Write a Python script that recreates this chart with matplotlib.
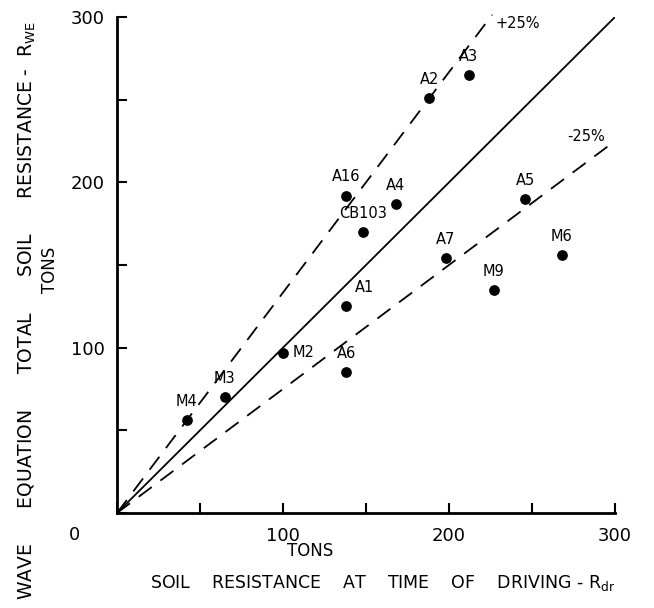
import numpy as np
import matplotlib
matplotlib.use("Agg")
import matplotlib.pyplot as plt

# Piles: driving resistance (x) vs wave equation resistance (y), tons
piles = ["M4", "M3", "M2", "A16", "A4", "CB103", "A1", "A6",
         "A7", "A2", "A3", "A5", "M6", "M9"]
r_dr = [42, 65, 100, 138, 168, 148, 138, 138, 198, 188, 212, 246, 268, 227]
r_we = [56, 70, 97, 192, 187, 170, 125, 85, 154, 251, 265, 190, 156, 135]

# label offsets (points) relative to each dot
offsets = {"M2": (7, 0), "A1": (6, 8)}

fig = plt.figure(figsize=(6.54, 6.08), dpi=100)
ax = fig.add_axes([117/654, 1-513/608, (615-117)/654, (513-17)/608])

# reference lines: 1:1 and +/-25 %
line_x = np.array([0, 300])
ax.plot(line_x, line_x, color="black", lw=1.3)
ax.plot([0, 226], [0, 226/0.75], color="black", lw=1.3, dashes=(9, 6), clip_on=False)
ax.plot([0, 300], [0, 300*0.75], color="black", lw=1.3, dashes=(9, 6), clip_on=False)

ax.scatter(r_dr, r_we, s=45, color="black", zorder=3, clip_on=False)
for name, x, y in zip(piles, r_dr, r_we):
    dx, dy = offsets.get(name, (0, 8))
    ha = "left" if name in offsets else "center"
    va = "center" if name == "M2" else "bottom"
    ax.annotate(name, (x, y), xytext=(dx, dy), textcoords="offset points",
                ha=ha, va=va, fontsize=10.5)

ax.text(228, 296, "+25%", fontsize=10.5, ha="left", va="center")
ax.text(271, 228, "-25%", fontsize=10.5, ha="left", va="center")

ax.set_xlim(0, 300)
ax.set_ylim(0, 300)
ticks = [0, 50, 100, 150, 200, 250, 300]
ax.set_xticks(ticks)
ax.set_yticks(ticks)
ax.set_xticklabels(["", "", "100", "", "200", "", "300"])
ax.set_yticklabels(["", "", "100", "", "200", "", "300"])
ax.tick_params(direction="in", length=7, width=1.5, labelsize=13, pad=10)
ax.tick_params(axis="y", pad=9)
for side in ["top", "right"]:
    ax.spines[side].set_visible(False)
for side in ["left", "bottom"]:
    ax.spines[side].set_linewidth(2)

fig.text(75/654, 1-535/608, "0", fontsize=13, ha="center", va="center")
fig.text(310/654, 1-551/608, "TONS", fontsize=12, ha="center", va="center")
fig.text(383/654, 1-583/608,
         r"SOIL    RESISTANCE    AT    TIME    OF    DRIVING - R$_{\rm dr}$",
         fontsize=12.5, ha="center", va="center")
fig.text(27/654, 1-310/608,
         r"WAVE      EQUATION      TOTAL      SOIL      RESISTANCE -  R$_{\rm WE}$",
         fontsize=13.5, ha="center", va="center", rotation=90)
fig.text(50/654, 1-270/608, "TONS", fontsize=12, ha="center", va="center", rotation=90)

fig.savefig("out.png", dpi=100)
